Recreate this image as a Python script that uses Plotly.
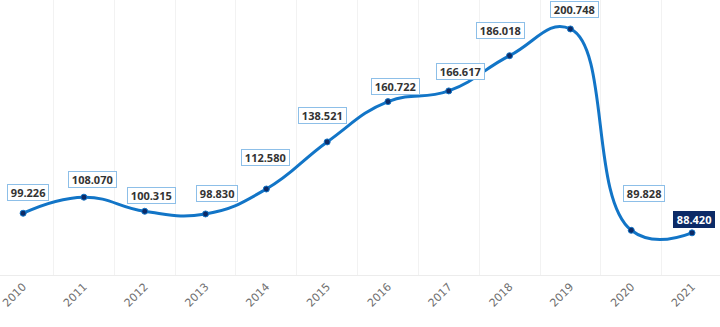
import plotly.graph_objects as go

# Annual series
years = ["2010", "2011", "2012", "2013", "2014", "2015",
         "2016", "2017", "2018", "2019", "2020", "2021"]
values = [99.226, 108.070, 100.315, 98.830, 112.580, 138.521,
          160.722, 166.617, 186.018, 200.748, 89.828, 88.420]

# Label offsets in pixels (right, up) so the value boxes sit clear of the line
label_dx = [5, 9, 7, 11, -1, -5, 8, 12, -9, 4, 13, 2]
label_dy = [21, 18, 16, 20, 32, 26, 15, 19, 25, 19, 37, 13]

LINE_BLUE = "#1275c7"
NAVY = "#0c2a66"
NBSP = "\u00a0"

fig = go.Figure()
fig.add_trace(go.Scatter(
    x=years, y=values,
    mode="lines+markers",
    line=dict(color=LINE_BLUE, width=3, shape="spline", smoothing=1.3),
    marker=dict(size=6, color=NAVY, line=dict(color=LINE_BLUE, width=1)),
    hoverinfo="x+y",
    showlegend=False,
))

last = len(years) - 1
for i, v in enumerate(values):
    highlight = i == last
    # category index keeps year-like strings from being read as positions
    fig.add_annotation(
        x=i, y=v, xref="x", yref="y",
        text=f"{NBSP}<b>{v:.3f}</b>{NBSP}",
        showarrow=False,
        xshift=label_dx[i], yshift=label_dy[i],
        font=dict(family="Open Sans", size=11,
                  color="#ffffff" if highlight else "#333333"),
        bgcolor=NAVY if highlight else "#ffffff",
        bordercolor=NAVY if highlight else "#8dbfe8",
        borderwidth=1, borderpad=0,
    )

fig.update_layout(
    width=720, height=327,
    margin=dict(l=0, r=0, t=0, b=52),
    paper_bgcolor="#ffffff",
    plot_bgcolor="#ffffff",
    xaxis=dict(
        type="category",
        range=[-0.38, 11.46],
        tickson="boundaries",
        showgrid=True, gridcolor="#f2f2f2", gridwidth=1,
        showline=True, linecolor="#ececec", linewidth=1,
        ticks="", tickangle=-45,
        tickfont=dict(family="DejaVu Sans", size=11, color="#707070"),
        zeroline=False,
    ),
    yaxis=dict(
        range=[65.2, 216.7],
        showgrid=False, zeroline=False,
        showticklabels=False, ticks="",
    ),
)

fig.write_html("out.html")
